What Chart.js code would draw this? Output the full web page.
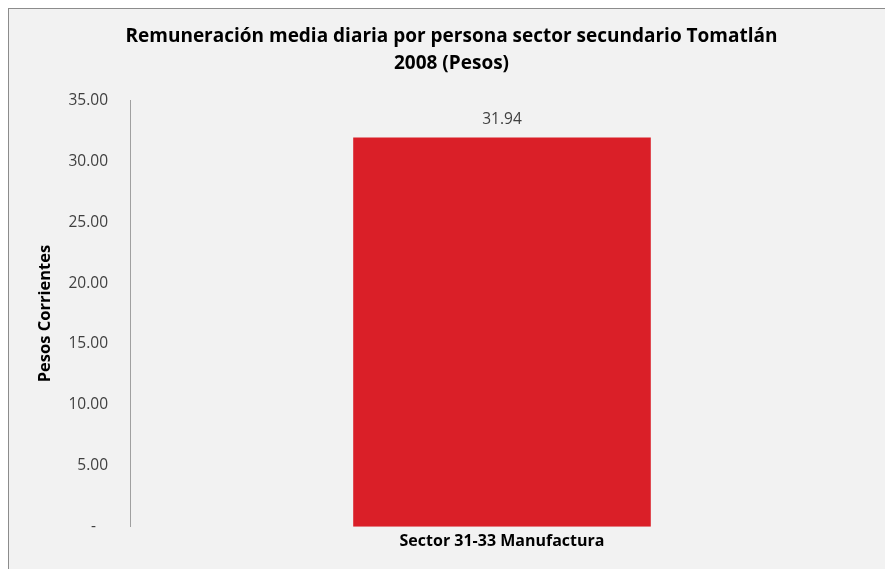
<!DOCTYPE html>
<html>
<head>
<meta charset="utf-8">
<script src="https://cdn.jsdelivr.net/npm/chart.js@4"></script>
<style>
html,body{margin:0;padding:0;background:#fff;width:885px;height:569px;overflow:hidden;}
#box{position:absolute;left:8px;top:8px;width:877px;height:561px;background:#F2F2F2;border-top:1px solid #8c8c8c;border-left:1px solid #8c8c8c;}
#wrap{position:absolute;left:0;top:0;width:876px;height:560px;}
</style>
</head>
<body>
<div id="box"><div id="wrap"><canvas id="c"></canvas></div></div>
<script>
const categories = ["Sector 31-33 Manufactura"];
const values = [31.94];
const valueLabels = ["31.94"];
const titleLines = ["Remuneración media diaria por persona sector secundario Tomatlán", "2008 (Pesos)"];
const yAxisTitle = "Pesos Corrientes";
const yMax = 35;
const yStep = 5;

const FONT = "'Open Sans', Lato, sans-serif";

const labelPlugin = {
  id: 'valLabels',
  afterDatasetsDraw(chart) {
    const ctx = chart.ctx;
    const meta = chart.getDatasetMeta(0);
    ctx.save();
    ctx.font = "15.5px " + FONT;
    ctx.fillStyle = "#404040";
    ctx.textAlign = "center";
    ctx.textBaseline = "middle";
    meta.data.forEach((bar, i) => {
      ctx.fillText(valueLabels[i], bar.x, bar.y - 18);
    });
    ctx.restore();
  }
};

new Chart(document.getElementById('c'), {
  type: 'bar',
  data: {
    labels: categories,
    datasets: [{
      data: values,
      backgroundColor: '#DA1F28',
      borderWidth: 0,
      categoryPercentage: 0.8,
      barPercentage: 0.5
    }]
  },
  options: {
    responsive: true,
    maintainAspectRatio: false,
    animation: false,
    devicePixelRatio: 1,
    layout: { padding: { left: 20, right: 11, top: 0, bottom: 13 } },
    plugins: {
      legend: { display: false },
      tooltip: { enabled: false },
      title: {
        display: true,
        text: titleLines,
        color: '#000',
        font: { family: FONT, size: 19, weight: 'bold', lineHeight: 1.43 },
        padding: { top: 14, bottom: 23 }
      }
    },
    scales: {
      x: {
        grid: { display: false, drawTicks: false },
        border: { display: false },
        ticks: { color: '#000', font: { family: FONT, size: 16, weight: 'bold' }, padding: 5 }
      },
      y: {
        min: 0,
        max: yMax,
        ticks: {
          stepSize: yStep,
          color: '#404040',
          font: { family: FONT, size: 15.5 },
          padding: 22,
          callback: (v) => v === 0 ? "-   " : Number(v).toFixed(2)
        },
        grid: { display: false, drawTicks: false },
        border: { display: true, color: '#A0A0A0', width: 1 },
        title: {
          display: true,
          text: yAxisTitle,
          color: '#000',
          font: { family: FONT, size: 16.5, weight: 'bold' },
          padding: { top: 6, bottom: 0 }
        },
        afterFit(scale) { scale.width = 101; }
      }
    }
  },
  plugins: [labelPlugin]
});
</script>
</body>
</html>
